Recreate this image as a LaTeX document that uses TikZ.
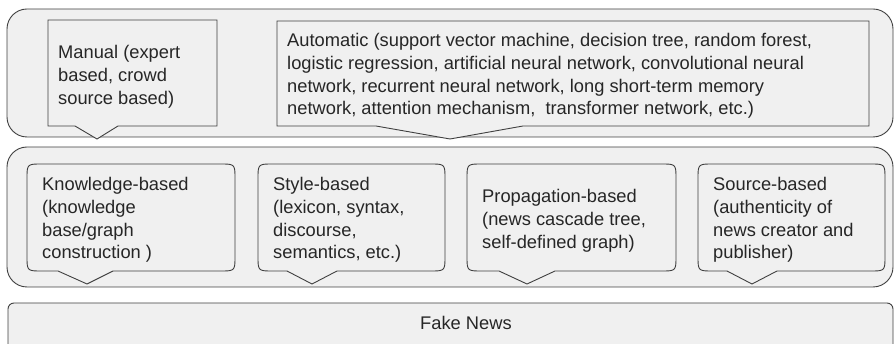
\documentclass[tikz,border=0pt]{standalone}
\usepackage{fontspec}
\setmainfont{Liberation Sans}
\usetikzlibrary{calc}

\definecolor{panelfill}{HTML}{F0F0F0}
\definecolor{panelline}{HTML}{404040}

\tikzset{
  panel/.style={draw=panelline, fill=panelfill, line width=0.9pt},
  label/.style={anchor=north west, inner sep=0pt, align=left,
    text=black!85, font=\fontsize{18.3pt}{22.8pt}\selectfont},
}

% rounded speech bubble: left, top, right, bottom, wedge left, wedge tip x, wedge right, tip y
\newcommand{\roundcallout}[8]{%
  \draw[panel] ({#1+15},#2) -- ({#3-15},#2)
    .. controls (#3,#2) .. (#3,{#2+15})
    -- (#3,{#4-15})
    .. controls (#3,#4) .. ({#3-15},#4)
    -- (#7,#4) -- (#6,#8) -- (#5,#4)
    -- ({#1+15},#4)
    .. controls (#1,#4) .. (#1,{#4-15})
    -- (#1,{#2+15})
    .. controls (#1,#2) .. cycle;}

% square speech bubble: left, top, right, bottom, wedge left, wedge tip x, wedge right, tip y
\newcommand{\squarecallout}[8]{%
  \draw[panel] (#1,#2) -- (#3,#2) -- (#3,#4) -- (#7,#4) -- (#6,#8)
    -- (#5,#4) -- (#1,#4) -- cycle;}

\begin{document}
\begin{tikzpicture}[x=1pt, y=-1pt]
  \clip (0,0) rectangle (895,344);

  % three horizontal layers
  \draw[panel, rounded corners=20pt] (7,9) rectangle (893,137);
  \draw[panel, rounded corners=20pt] (7,147) rectangle (893,287);
  \draw[panel, rounded corners=6pt] (8,303) rectangle (893,360);

  % detection approaches
  \squarecallout{48}{20}{217}{126}{75}{97}{118}{139}
  \squarecallout{277}{21}{869}{126}{376}{450}{523}{139}

  \node[label] (manual) at (58,45) {Manual (expert\\based, crowd\\source based)};
  \node[label] (auto) at (287,33) {Automatic (support vector machine, decision tree, random forest,\\
    logistic regression, artificial neural network, convolutional neural\\
    network, recurrent neural network, long short-term memory\\
    network, attention mechanism, \ transformer network, etc.)};

  % detection perspectives
  \roundcallout{27}{164}{235}{271}{58}{87}{113}{284}
  \roundcallout{258}{164}{445}{271}{287}{312}{337}{284}
  \roundcallout{467}{164}{676}{271}{499}{527}{555}{284}
  \roundcallout{698}{164}{885}{271}{727}{752}{777}{284}

  \node[label] (knowledge) at (42,177) {Knowledge-based\\(knowledge\\base/graph\\construction )};
  \node[label] (style) at (273,177) {Style-based\\(lexicon, syntax,\\discourse,\\semantics, etc.)};
  \node[label] (propagation) at (482,189) {Propagation-based\\(news cascade tree,\\self-defined graph)};
  \node[label] (source) at (713,177) {Source-based\\(authenticity of\\news creator and\\publisher)};

  % base layer
  \node[label, anchor=center] (fake) at (466,323) {Fake News};
\end{tikzpicture}
\end{document}
